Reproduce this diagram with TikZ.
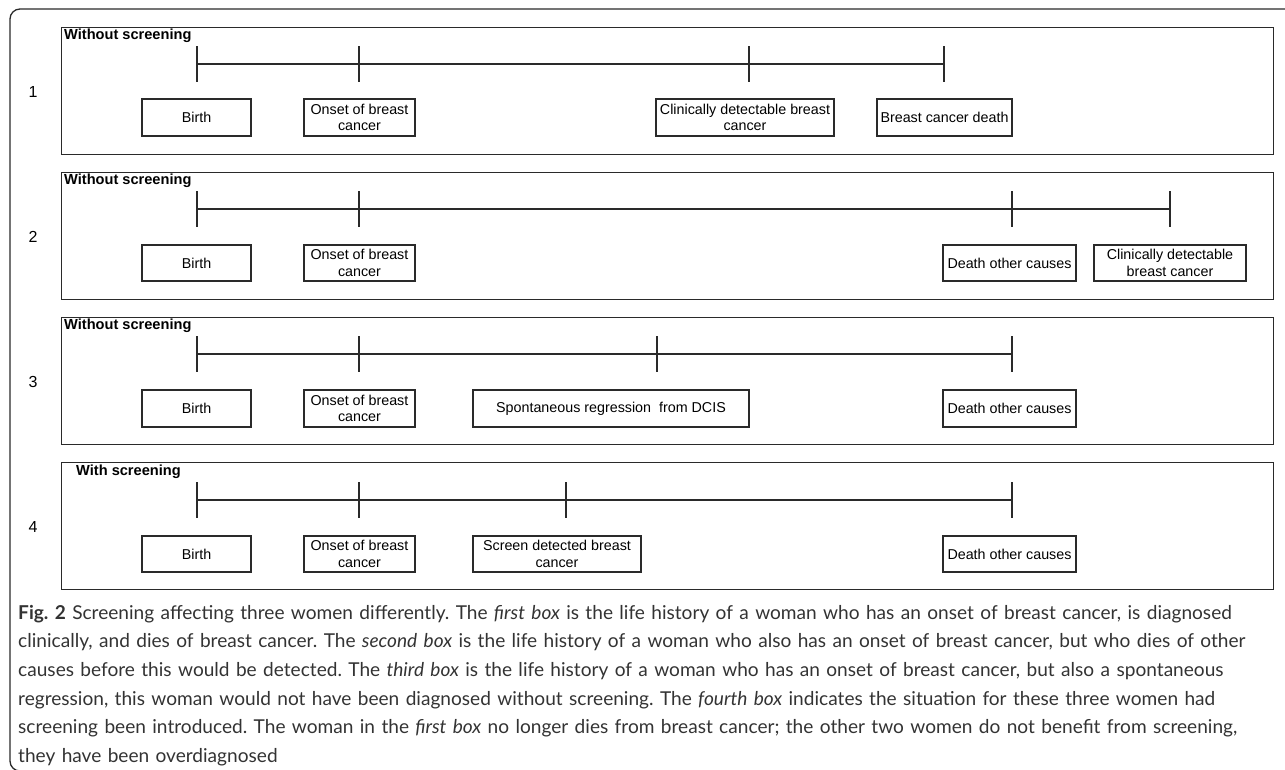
\documentclass[tikz,border=0pt]{standalone}
\usepackage{fontspec}
\setmainfont{Liberation Sans}
\newfontfamily\capfont{Lato}
\usetikzlibrary{positioning}
\definecolor{capgray}{HTML}{333333}
\definecolor{linegray}{HTML}{2A2A2A}

\tikzset{
  event/.style={draw=linegray, line width=1.3pt, align=center, inner sep=0pt,
    font=\fontsize{14.3}{16.5}\selectfont},
  panel/.style={draw=linegray, line width=1.4pt, inner sep=0pt, anchor=north west,
    minimum width=1212pt, minimum height=127pt},
  tag/.style={anchor=north west, inner sep=0pt, font=\fontsize{14.6}{16}\selectfont\bfseries},
  number/.style={font=\fontsize{16}{18}\selectfont},
  timeline/.style={draw=linegray, line width=1.4pt},
}

\begin{document}
\begin{tikzpicture}[x=1pt, y=-1pt]
  \useasboundingbox (0,0) rectangle (1285,769);
  \begin{scope}
    \clip (0,0) rectangle (1285,769);
    \draw[linegray, line width=1.3pt, rounded corners=10pt] (1300,771) -- (10,771) -- (10,9) -- (1300,9);
  \end{scope}

  % box 1
  \node[panel] (panelA) at (61,27) {};
  \node[tag] (tagA) at (64,29) {Without screening};
  \node[number] (numA) at (33,92) {1};
  \coordinate (a1) at (197,64); \coordinate (a2) at (359,64);
  \coordinate (a3) at (749,64); \coordinate (a4) at (944,64);
  \draw[timeline] (a1) -- (a4);
  \foreach \c in {a1,a2,a3,a4} \draw[timeline] ([yshift=18pt]\c) -- ([yshift=-18pt]\c);
  \node[event, minimum width=109pt, minimum height=37pt] (birthA) at (196.5,117.5) {Birth};
  \node[event, minimum width=111pt, minimum height=37pt] (onsetA) at (359.5,117.5) {Onset of breast\\cancer};
  \node[event, minimum width=178pt, minimum height=37pt] (clinA) at (745,117.5) {Clinically detectable breast\\cancer};
  \node[event, minimum width=135pt, minimum height=37pt] (deathA) at (944.5,117.5) {Breast cancer death};

  % box 2
  \node[panel] (panelB) at (61,172) {};
  \node[tag] (tagB) at (64,174) {Without screening};
  \node[number] (numB) at (33,237) {2};
  \coordinate (b1) at (197,209); \coordinate (b2) at (359,209);
  \coordinate (b3) at (1012,209); \coordinate (b4) at (1170,209);
  \draw[timeline] (b1) -- (b4);
  \foreach \c in {b1,b2,b3,b4} \draw[timeline] ([yshift=18pt]\c) -- ([yshift=-18pt]\c);
  \node[event, minimum width=109pt, minimum height=36pt] (birthB) at (196.5,263) {Birth};
  \node[event, minimum width=111pt, minimum height=36pt] (onsetB) at (359.5,263) {Onset of breast\\cancer};
  \node[event, minimum width=133pt, minimum height=36pt] (deathB) at (1009.5,263) {Death other causes};
  \node[event, minimum width=152pt, minimum height=36pt] (clinB) at (1170,263) {Clinically detectable\\breast cancer};

  % box 3
  \node[panel] (panelC) at (61,317) {};
  \node[tag] (tagC) at (64,319) {Without screening};
  \node[number] (numC) at (33,382) {3};
  \coordinate (c1) at (197,354); \coordinate (c2) at (359,354);
  \coordinate (c3) at (657,354); \coordinate (c4) at (1012,354);
  \draw[timeline] (c1) -- (c4);
  \foreach \c in {c1,c2,c3,c4} \draw[timeline] ([yshift=18pt]\c) -- ([yshift=-18pt]\c);
  \node[event, minimum width=109pt, minimum height=37pt] (birthC) at (196.5,408.5) {Birth};
  \node[event, minimum width=111pt, minimum height=37pt] (onsetC) at (359.5,408.5) {Onset of breast\\cancer};
  \node[event, minimum width=276pt, minimum height=37pt] (regrC) at (611,408.5) {Spontaneous regression~ from DCIS};
  \node[event, minimum width=133pt, minimum height=37pt] (deathC) at (1009.5,408.5) {Death other causes};

  % box 4
  \node[panel] (panelD) at (61,462) {};
  \node[tag] (tagD) at (76,465) {With screening};
  \node[number] (numD) at (33,527) {4};
  \coordinate (d1) at (197,500); \coordinate (d2) at (359,500);
  \coordinate (d3) at (566,500); \coordinate (d4) at (1012,500);
  \draw[timeline] (d1) -- (d4);
  \foreach \c in {d1,d2,d3,d4} \draw[timeline] ([yshift=18pt]\c) -- ([yshift=-18pt]\c);
  \node[event, minimum width=109pt, minimum height=36pt] (birthD) at (196.5,554) {Birth};
  \node[event, minimum width=111pt, minimum height=36pt] (onsetD) at (359.5,554) {Onset of breast\\cancer};
  \node[event, minimum width=168pt, minimum height=36pt] (screenD) at (557,554) {Screen detected breast\\cancer};
  \node[event, minimum width=133pt, minimum height=36pt] (deathD) at (1009.5,554) {Death other causes};

  % caption
  \node[anchor=north west, inner sep=0pt, text width=1267pt, align=left, text=capgray,
    font=\capfont\fontsize{19.1}{28.6}\selectfont\frenchspacing] (caption) at (18,605)
    {\textbf{Fig. 2} Screening affecting three women differently. The \textit{first box} is the life history of a woman who has an onset of breast cancer, is diagnosed\\
     clinically, and dies of breast cancer. The \textit{second box} is the life history of a woman who also has an onset of breast cancer, but who dies of other\\
     causes before this would be detected. The \textit{third box} is the life history of a woman who has an onset of breast cancer, but also a spontaneous\\
     regression, this woman would not have been diagnosed without screening. The \textit{fourth box} indicates the situation for these three women had\\
     screening been introduced. The woman in the \textit{first box} no longer dies from breast cancer; the other two women do not benefit from screening,\\
     they have been overdiagnosed};
\end{tikzpicture}
\end{document}
